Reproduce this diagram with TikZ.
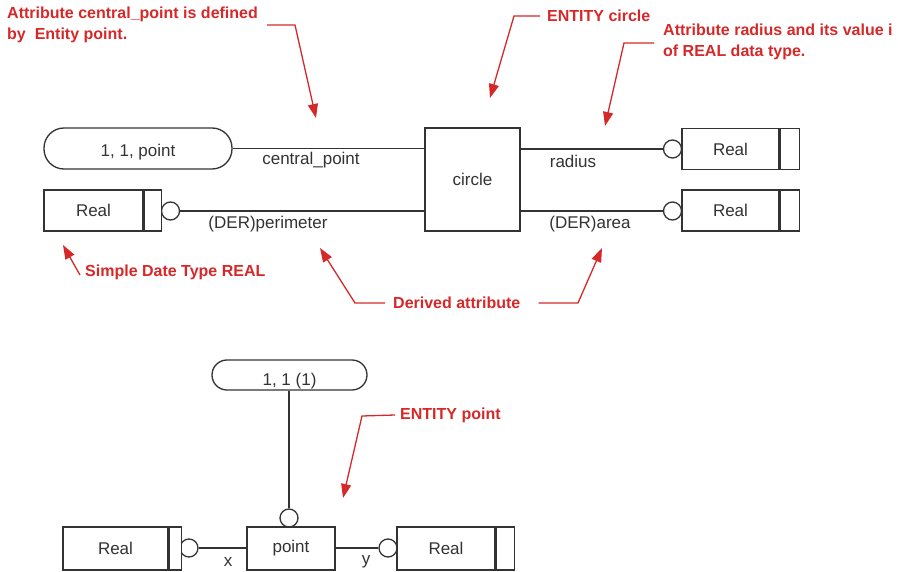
\documentclass[tikz,border=0pt]{standalone}
\usepackage{fontspec}
\setmainfont{Liberation Sans}
\usetikzlibrary{arrows.meta}
\definecolor{notered}{HTML}{D62828}
\definecolor{ink}{HTML}{333333}
\tikzset{
  lbl/.style={font=\fontsize{17}{20}\selectfont, text=ink, inner sep=0pt},
  note/.style={font=\bfseries\fontsize{16}{21}\selectfont, text=notered, inner sep=0pt, align=left},
  entitybox/.style={draw=ink, line width=1.3pt, rectangle, fill=white, inner sep=0pt, font=\fontsize{17}{20}\selectfont, text=ink},
  typebox/.style={entitybox, minimum height=41pt},
  stubbox/.style={draw=ink, line width=1.3pt, rectangle, fill=white, inner sep=0pt, minimum height=41pt},
  pill/.style={entitybox},
  ring/.style={draw=ink, line width=1.3pt, circle, fill=white, inner sep=0pt, minimum size=18pt},
  link/.style={draw=ink, line width=1.3pt},
  pointer/.style={draw=notered, line width=1.3pt, -{Triangle[length=14pt,width=10pt]}}
}
\begin{document}
\begin{tikzpicture}[x=1pt,y=-1pt]
\path[use as bounding box] (0,0) rectangle (898,572);
\clip (0,0) rectangle (898,572);

% ---- rings (drawn first, the boxes partly cover them) ----
\node[ring] (ringP) at (170.5,211) {};
\node[ring] (ringR) at (672.5,149) {};
\node[ring] (ringA) at (672.5,211) {};
\node[ring] (ringT) at (289,518) {};
\node[ring] (ringX) at (189,548) {};
\node[ring] (ringY) at (388,548) {};

% ---- ENTITY circle ----
\node[pill, minimum width=188pt, minimum height=41pt, rounded corners=20pt, text height=17pt, text depth=0pt] (cpt) at (138,148.5) {1, 1, point};
\node[entitybox, minimum width=95pt, minimum height=103pt] (circ) at (472.5,179.5) {circle};

\node[typebox, minimum width=99pt] (realP) at (93.5,210.5) {Real};
\node[stubbox, minimum width=17pt, anchor=west] (realPs) at (realP.east) {};

\node[typebox, minimum width=97pt] (realR) at (730.5,149) {Real};
\node[stubbox, minimum width=19pt, anchor=west] (realRs) at (realR.east) {};

\node[typebox, minimum width=97pt] (realA) at (730.5,210.5) {Real};
\node[stubbox, minimum width=19pt, anchor=west] (realAs) at (realA.east) {};

\draw[link] (cpt.east) -- (cpt.east -| circ.west);
\draw[link] (ringP.east) -- (ringP.east -| circ.west);
\draw[link] (circ.east |- ringR.west) -- (ringR.west);
\draw[link] (circ.east |- ringA.west) -- (ringA.west);

\node[lbl] (lcp) at (311,160) {central\_point};
\node[lbl] (lper) at (268,224) {(DER)perimeter};
\node[lbl] (lrad) at (573,161) {radius};
\node[lbl] (lare) at (590,224) {(DER)area};

% ---- ENTITY point ----
\node[pill, minimum width=155pt, minimum height=30pt, rounded corners=15pt, text height=21pt, text depth=0pt] (pone) at (289.5,375) {1, 1 (1)};
\node[entitybox, minimum width=88pt, minimum height=43pt] (pnt) at (291,548.5) {point};
\draw[link] (pone.south -| ringT.north) -- (ringT.north);

\node[typebox, minimum width=105pt, minimum height=43pt] (realX) at (115.5,548.5) {Real};
\node[stubbox, minimum width=12pt, minimum height=43pt, anchor=west] (realXs) at (realX.east) {};

\node[typebox, minimum width=98pt, minimum height=43pt] (realY) at (446,548.5) {Real};
\node[stubbox, minimum width=18pt, minimum height=43pt, anchor=west] (realYs) at (realY.east) {};

\draw[link] (ringX.east) -- (ringX.east -| pnt.west);
\draw[link] (pnt.east |- ringY.west) -- (ringY.west);
\node[lbl] (lx) at (228,562) {x};
\node[lbl] (ly) at (366,562) {y};

% ---- notes ----
\node[note, anchor=north west] (n1) at (7,7) {Attribute central\_point is defined\\by\ \ Entity point.};
\node[note, anchor=west] (n2) at (547,16) {ENTITY circle};
\node[note, anchor=north west] (n3) at (663,24) {Attribute radius and its value i\\of REAL data type.};
\node[note, anchor=west] (n4) at (85,272) {Simple Date Type REAL};
\node[note, anchor=west] (n5) at (393,303) {Derived attribute};
\node[note, anchor=west] (n6) at (400,415) {ENTITY point};

\coordinate (t1) at (316,118);
\coordinate (t2) at (490,98);
\coordinate (t3) at (605,126);
\coordinate (t4) at (63,245);
\coordinate (t5) at (320,248);
\coordinate (t6) at (602,248);
\coordinate (t7) at (343,498);

\draw[pointer] (267,25) -- (295,25) -- (t1);
\draw[pointer] ([xshift=-7pt]n2.west) -- (514,16) -- (t2);
\draw[pointer] (654,43) -- (624,43) -- (t3);
\draw[pointer] ([xshift=-5pt,yshift=-3pt]n4.west) -- (t4);
\draw[pointer] ([xshift=-8pt]n5.west) -- (355,303) -- (t5);
\draw[pointer] ([xshift=18pt]n5.east) -- (578,303) -- (t6);
\draw[pointer] ([xshift=-5pt]n6.west) -- (362,416) -- (t7);
\end{tikzpicture}
\end{document}
